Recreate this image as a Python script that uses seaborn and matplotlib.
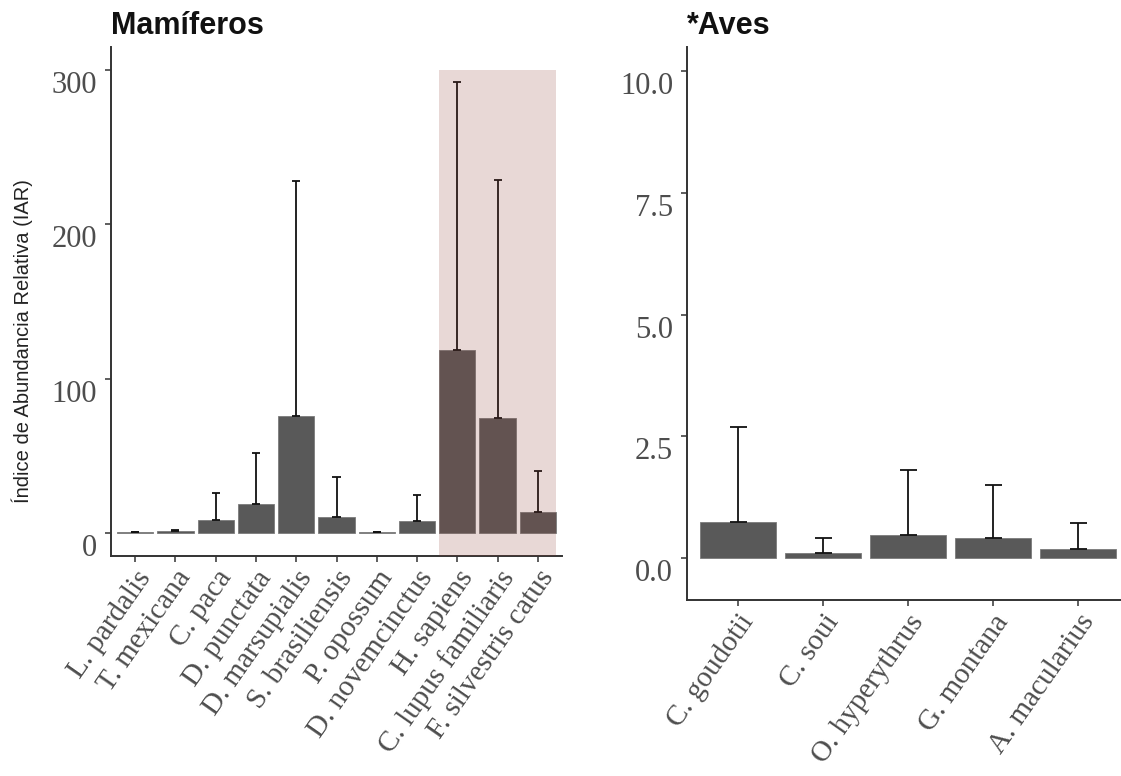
import numpy as np
import pandas as pd
import matplotlib
matplotlib.use("Agg")
import matplotlib.pyplot as plt
import matplotlib.transforms as mtransforms
import seaborn as sns

# ---- data ----
mam_species = ["L. pardalis", "T. mexicana", "C. paca", "D. punctata", "D. marsupialis",
               "S. brasiliensis", "P. opossum", "D. novemcinctus", "H. sapiens",
               "C. lupus familiaris", "F. silvestris catus"]
mam_mean = [0.6, 1.0, 8.4, 18.6, 76.0, 10.4, 0.5, 7.5, 118.8, 74.2, 13.4]
mam_upper = [0.8, 2.0, 25.7, 52.0, 228.0, 36.0, 0.6, 24.7, 292.0, 229.0, 39.8]

ave_species = ["C. goudotii", "C. soui", "O. hyperythrus", "G. montana", "A. macularius"]
ave_mean = [0.75, 0.115, 0.48, 0.42, 0.18]
ave_upper = [2.70, 0.42, 1.81, 1.50, 0.72]

mam_yticks = [0, 100, 200, 300]
mam_yticklabels = ["0", "100", "200", "300"]
ave_yticks = [0.0, 2.5, 5.0, 7.5, 10.0]
ave_yticklabels = ["0.0", "2.5", "5.0", "7.5", "10.0"]

df_mam = pd.DataFrame({"sp": mam_species, "iar": mam_mean, "up": mam_upper})
df_ave = pd.DataFrame({"sp": ave_species, "iar": ave_mean, "up": ave_upper})

sns.set_style("white")
plt.rcParams["font.family"] = ["Liberation Sans", "DejaVu Sans"]

W, H = 1121, 776
fig = plt.figure(figsize=(W / 100, H / 100), dpi=100)

def px_axes(x0, y0, x1, y1):
    return fig.add_axes([x0 / W, 1 - y1 / H, (x1 - x0) / W, (y1 - y0) / H])

ax1 = px_axes(111, 47, 562, 556)
ax2 = px_axes(687, 47, 1129, 600)

BAR = "#595959"
TICKCOL = "#4d4d4d"
SPINE = "#333333"

def draw(ax, df, yticks, ylabels, ylim, title):
    sns.barplot(data=df, x="sp", y="iar", color=BAR, saturation=1, width=0.9,
                errorbar=None, edgecolor="#7a7a7a", linewidth=0.6, ax=ax, zorder=2)
    x = np.arange(len(df))
    ax.errorbar(x, df["iar"], yerr=[np.zeros(len(df)), df["up"] - df["iar"]],
                fmt="none", ecolor="#111111", elinewidth=1.3, capsize=0, zorder=3)
    # caps (0.2 category width) at upper end and at the mean
    for xi, m, u in zip(x, df["iar"], df["up"]):
        ax.hlines([m, u], xi - 0.1, xi + 0.1, color="#111111", lw=1.3, zorder=3)
    ax.set_xlim(-0.6, len(df) - 0.4)
    ax.set_ylim(*ylim)
    ax.set_yticks(yticks)
    ax.set_yticklabels(ylabels)
    ax.set_xlabel("")
    ax.set_ylabel("")
    for s in ["top", "right"]:
        ax.spines[s].set_visible(False)
    for s in ["left", "bottom"]:
        ax.spines[s].set_color(SPINE)
        ax.spines[s].set_linewidth(1.4)
    ax.tick_params(axis="both", direction="out", length=4, width=1.1, color=SPINE,
                   left=True, bottom=True)
    ax.tick_params(axis="y", labelsize=22, labelcolor=TICKCOL, pad=6)
    ax.tick_params(axis="x", labelsize=21, labelcolor=TICKCOL, pad=3)
    for lab in ax.get_yticklabels():
        lab.set_fontfamily("Liberation Serif")
        lab.set_transform(lab.get_transform() +
                          mtransforms.ScaledTranslation(0, -12 / 100, fig.dpi_scale_trans))
    for lab in ax.get_xticklabels():
        lab.set_fontfamily("Liberation Serif")
        lab.set_rotation(55)
        lab.set_ha("right")
        lab.set_va("top")
        lab.set_rotation_mode("anchor")
    ax.set_title(title, loc="left", fontsize=22, fontweight="bold", pad=9, color="#111111")

draw(ax1, df_mam, mam_yticks, mam_yticklabels, (-15, 315), "Mamíferos")
draw(ax2, df_ave, ave_yticks, ave_yticklabels, (-0.86, 10.5), "*Aves")

# highlighted domestic / human species (over bars)
ax1.fill_between([7.55, 10.45], -15, 300, color="#8c3c32", alpha=0.2, lw=0, zorder=4)

fig.text(22 / W, 1 - 341 / H, "Índice de Abundancia Relativa (IAR)", rotation=90,
         ha="center", va="center", fontsize=14.5, color="#222222")

fig.savefig("out.png", dpi=100)
